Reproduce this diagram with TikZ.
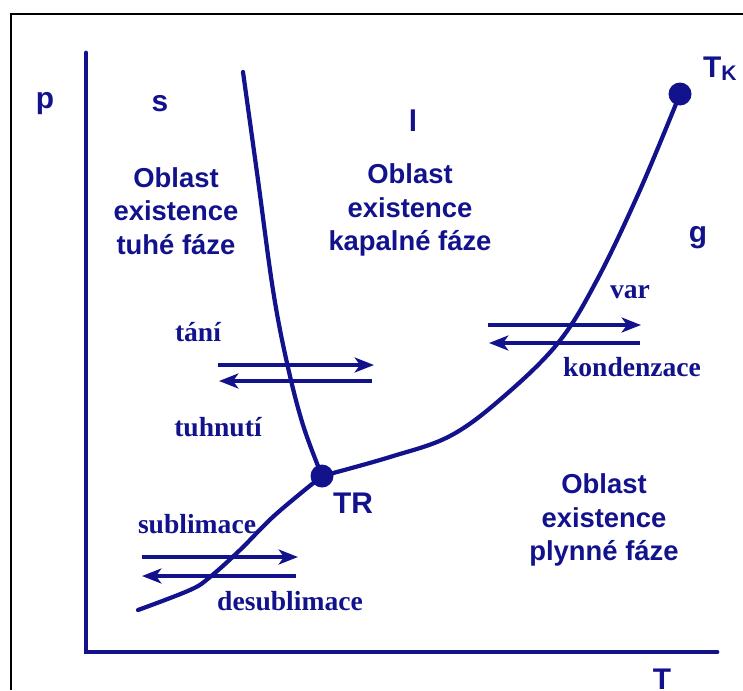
\documentclass[tikz,border=0pt]{standalone}
\usepackage{fontspec}
\setmainfont{Liberation Serif}
\setsansfont{Liberation Sans}
\usetikzlibrary{arrows.meta}
\definecolor{navy}{RGB}{18,18,140}
\begin{document}
\begin{tikzpicture}[x=0.02cm,y=-0.02cm,
  axis/.style={navy,line width=2.8pt,line cap=round,line join=miter},
  curve/.style={navy,line width=2.4pt,line cap=round},
  arr/.style={navy,line width=2.5pt,-{Stealth[length=11pt,width=8.5pt,inset=3pt]}},
  dot/.style={circle,fill=navy,inner sep=0pt,minimum size=0.46cm},
  region/.style={text=navy,font=\sffamily\bfseries\fontsize{15.6}{18.9}\selectfont,align=center},
  letter/.style={text=navy,font=\sffamily\bfseries\fontsize{17}{20}\selectfont},
  proc/.style={text=navy,font=\rmfamily\bfseries\fontsize{15.7}{18}\selectfont}]
\useasboundingbox (0,0) rectangle (743,690);
% frame
\draw[black,line width=1.6pt] (11,690) -- (11,14) -- (743,14);
% axes
\coordinate (ytop) at (86,53);
\coordinate (orig) at (86,652);
\coordinate (xend) at (717,652);
\draw[axis] (ytop) -- (orig) -- (xend);
% points
\node[dot] (TR) at (322,476) {};
\node[dot] (TK) at (680,94) {};
% melting curve
\draw[curve] plot[smooth,tension=0.6] coordinates {(243,72) (258,180) (273,290) (287,363) (303,425) (322,476)};
% vapour curve
\draw[curve] plot[smooth,tension=0.6] coordinates {(322,476) (390,457) (450,436) (502,398) (558,343) (597,280) (640,190) (680,94)};
% sublimation curve
\draw[curve] plot[smooth,tension=0.6] coordinates {(322,476) (275,515) (240,550) (210,577) (190,590) (138,610)};
% arrows
\coordinate (ma1) at (218,365); \coordinate (mb1) at (374,365);
\coordinate (ma2) at (372,381); \coordinate (mb2) at (219,381);
\draw[arr] (ma1) -- (mb1);
\draw[arr] (ma2) -- (mb2);
\coordinate (va1) at (488,325); \coordinate (vb1) at (641,325);
\coordinate (va2) at (640,343); \coordinate (vb2) at (489,343);
\draw[arr] (va1) -- (vb1);
\draw[arr] (va2) -- (vb2);
\coordinate (sa1) at (142,557); \coordinate (sb1) at (298,557);
\coordinate (sa2) at (296,576); \coordinate (sb2) at (142,576);
\draw[arr] (sa1) -- (sb1);
\draw[arr] (sa2) -- (sb2);
% letters
\node[letter] (p) at (45,104) {p};
\node[letter] (s) at (160,104) {s};
\node[letter] (l) at (413,121) {l};
\node[letter] (g) at (698,238) {g};
\node[letter] (T) at (662,679) {T};
\node[letter] (TRl) at (353,503) {TR};
\node[letter,anchor=base west] (TKl) at (697,77) {T\raisebox{-0.12em}{\fontsize{12}{14}\selectfont K}};
% regions
\node[region] (sol) at (176,211) {Oblast\\existence\\tuhé fáze};
\node[region] (liq) at (410,210) {Oblast\\existence\\kapalné fáze};
\node[region] (gas) at (604,520) {Oblast\\existence\\plynné fáze};
% processes
\node[proc] (tani) at (198,332) {tání};
\node[proc] (tuhn) at (218,427) {tuhnutí};
\node[proc] (var) at (630,292) {var};
\node[proc] (kond) at (632,367) {kondenzace};
\node[proc] (subl) at (197,524) {sublimace};
\node[proc] (desub) at (290,601) {desublimace};
\end{tikzpicture}
\end{document}
